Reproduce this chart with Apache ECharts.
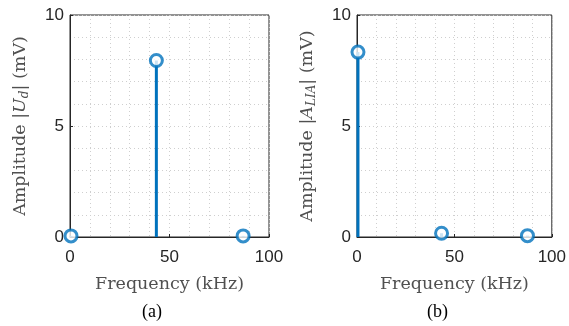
<!DOCTYPE html>
<html>
<head>
<meta charset="utf-8">
<script src="https://cdn.jsdelivr.net/npm/echarts@6/dist/echarts.min.js"></script>
<style>
  html, body { margin: 0; padding: 0; background: #fff; }
  #chart { width: 569px; height: 326px; }
</style>
</head>
<body>
<div id="chart"></div>
<script>
// spectrum (a): demodulated signal U_d
const freqA = [0.5, 43.4, 87];
const ampA = [0.05, 7.95, 0.05];
// spectrum (b): lock-in output A_LIA
const freqB = [0.5, 43.4, 87.5];
const ampB = [8.33, 0.17, 0.06];

const xTicks = [0, 50, 100];
const yTicks = [0, 5, 10];
const captions = ['(a)', '(b)'];

const blue = '#0072BD';
const axisColor = '#262626';
const gridColor = '#cfcfcf';
const nameColor = '#505050';
const serif = 'DejaVu Serif';

const chart = echarts.init(document.getElementById('chart'));

function xAxisFor(gridIndex) {
  return {
    type: 'value',
    gridIndex,
    min: xTicks[0],
    max: xTicks[xTicks.length - 1],
    interval: xTicks[1] - xTicks[0],
    name: 'Frequency (kHz)',
    nameLocation: 'middle',
    nameGap: 38,
    nameTextStyle: { fontFamily: serif, fontSize: 17.5, color: nameColor },
    axisLine: { show: true, onZero: false, lineStyle: { color: axisColor, width: 1 } },
    axisTick: { show: true, inside: true, length: 3, lineStyle: { color: axisColor } },
    minorTick: { show: false, splitNumber: 5 },
    axisLabel: { fontFamily: 'Liberation Sans', fontSize: 17, color: axisColor, margin: 12 },
    splitLine: { show: true, lineStyle: { color: gridColor, type: [1, 3] } },
    minorSplitLine: { show: true, lineStyle: { color: gridColor, type: [1, 3] } }
  };
}

function yAxisFor(gridIndex, name) {
  return {
    type: 'value',
    gridIndex,
    min: yTicks[0],
    max: yTicks[yTicks.length - 1],
    interval: yTicks[1] - yTicks[0],
    name,
    nameLocation: 'middle',
    nameGap: 39,
    nameTextStyle: {
      fontFamily: serif, fontSize: 17.5, color: nameColor,
      rich: {
        it: { fontFamily: serif, fontStyle: 'italic', fontSize: 17.5, color: nameColor },
        sub: { fontFamily: serif, fontStyle: 'italic', fontSize: 12, color: nameColor, padding: [9, 0, 0, 0] }
      }
    },
    axisLine: { show: true, onZero: false, lineStyle: { color: axisColor, width: 1 } },
    axisTick: { show: true, inside: true, length: 3, lineStyle: { color: axisColor } },
    minorTick: { show: false, splitNumber: 5 },
    axisLabel: { fontFamily: 'Liberation Sans', fontSize: 17, color: axisColor, margin: 6 },
    splitLine: { show: true, lineStyle: { color: gridColor, type: [1, 3] } },
    minorSplitLine: { show: true, lineStyle: { color: gridColor, type: [1, 3] } }
  };
}

function stemSeries(idx, xs, ys) {
  const data = xs.map((x, i) => [x, ys[i]]);
  return [
    {
      type: 'custom',
      xAxisIndex: idx,
      yAxisIndex: idx,
      data,
      z: 3,
      renderItem: (params, api) => {
        const p0 = api.coord([api.value(0), 0]);
        const p1 = api.coord([api.value(0), api.value(1)]);
        return {
          type: 'line',
          shape: { x1: p0[0], y1: p0[1], x2: p1[0], y2: p1[1] },
          style: { stroke: blue, lineWidth: 3 }
        };
      }
    },
    {
      type: 'scatter',
      xAxisIndex: idx,
      yAxisIndex: idx,
      data,
      z: 4,
      symbol: 'circle',
      symbolSize: 12,
      itemStyle: { color: '#fff', borderColor: blue, borderWidth: 3 }
    }
  ];
}

const option = {
  animation: false,
  backgroundColor: '#fff',
  grid: [
    { left: 70, top: 15, width: 199, height: 222, show: true, borderColor: axisColor, borderWidth: 1, backgroundColor: 'transparent' },
    { left: 357, top: 15, width: 198, height: 222, show: true, borderColor: axisColor, borderWidth: 1, backgroundColor: 'transparent' }
  ],
  xAxis: [xAxisFor(0), xAxisFor(1)],
  yAxis: [
    yAxisFor(0, 'Amplitude |{it|U}{sub|d}| (mV)'),
    yAxisFor(1, 'Amplitude |{it|A}{sub|LIA}| (mV)')
  ],
  series: [...stemSeries(0, freqA, ampA), ...stemSeries(1, freqB, ampB)],
  graphic: [
    { type: 'text', left: 142, top: 303, style: { text: captions[0], font: '18px "Liberation Serif"', fill: '#000' } },
    { type: 'text', left: 427, top: 303, style: { text: captions[1], font: '18px "Liberation Serif"', fill: '#000' } }
  ]
};

chart.setOption(option);
</script>
</body>
</html>
